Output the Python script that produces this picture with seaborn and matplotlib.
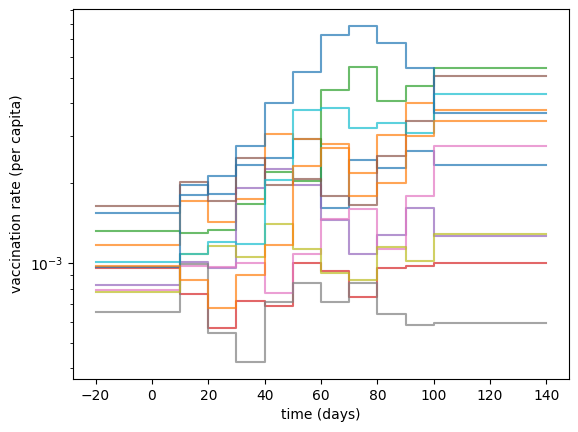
import pandas as pd
import matplotlib
matplotlib.use("Agg")
import matplotlib.pyplot as plt
import seaborn as sns

# 구간 시작 시각 (days); 마지막 값은 140일까지 유지
times = [-20, 10, 20, 30, 40, 50, 60, 70, 80, 90, 100]
t_end = 140

# 각 지역의 접종률 (x 1e-3, per capita)
rate_c0 = [1.537, 1.962, 1.826, 2.343, 2.494, 2.931, 1.610, 2.447, 2.282, 2.647, 2.343]
rate_c1 = [1.163, 1.712, 1.430, 1.737, 3.070, 2.931, 2.814, 2.179, 3.043, 4.012, 3.785]
rate_c2 = [1.317, 1.295, 1.329, 1.667, 2.198, 2.038, 4.506, 5.492, 4.083, 4.666, 5.444]
rate_c3 = [0.9556, 0.7605, 0.5656, 0.7153, 0.6873, 0.9965, 0.9351, 0.7454, 0.9598, 0.9708, 0.9965]
rate_c4 = [0.8275, 1.011, 0.9540, 1.917, 2.262, 1.967, 1.450, 1.078, 1.272, 1.606, 1.266]
rate_c5 = [1.634, 2.020, 1.707, 2.490, 1.974, 2.081, 1.788, 1.653, 2.534, 3.439, 5.078]
rate_c6 = [0.7921, 0.9767, 0.9682, 0.9965, 0.7671, 1.078, 1.459, 1.592, 1.126, 1.783, 2.765]
rate_c7 = [0.6542, 0.9879, 0.5431, 0.4217, 0.7091, 0.8370, 0.7116, 0.8370, 0.6388, 0.5826, 0.5943]
rate_c8 = [0.7785, 1.078, 1.153, 1.056, 1.397, 1.126, 0.9166, 0.8645, 1.146, 1.014, 1.280]
rate_c9 = [1.011, 1.078, 1.194, 1.183, 2.055, 3.765, 3.851, 3.218, 3.370, 3.089, 4.340]
rate_c10 = [0.9657, 1.803, 2.129, 2.765, 4.012, 5.259, 7.260, 7.854, 6.789, 5.430, 3.687]
rate_c11 = [0.9767, 0.8592, 0.6772, 0.9006, 1.173, 2.322, 2.717, 1.783, 2.009, 3.009, 3.439]

series = [rate_c0, rate_c1, rate_c2, rate_c3, rate_c4, rate_c5,
          rate_c6, rate_c7, rate_c8, rate_c9, rate_c10, rate_c11]

rows = []
for i, vals in enumerate(series):
    xs = times + [t_end]
    ys = vals + [vals[-1]]
    for x, y in zip(xs, ys):
        rows.append({"time": x, "rate": y * 1e-3, "region": i})
df = pd.DataFrame(rows)

palette = sns.color_palette("tab10", 10)
palette = palette + palette[:2]

fig, ax = plt.subplots(figsize=(5.78, 4.32), dpi=100)
fig.subplots_adjust(left=0.1263, right=0.9844, top=0.9792, bottom=0.1227)

sns.lineplot(data=df, x="time", y="rate", hue="region", palette=palette,
             drawstyle="steps-post", alpha=0.7, linewidth=1.5,
             errorbar=None, legend=False, ax=ax)

ax.set_yscale("log")
ax.set_xlabel("time (days)")
ax.set_ylabel("vaccination rate (per capita)")

plt.savefig("out.png", dpi=100)
